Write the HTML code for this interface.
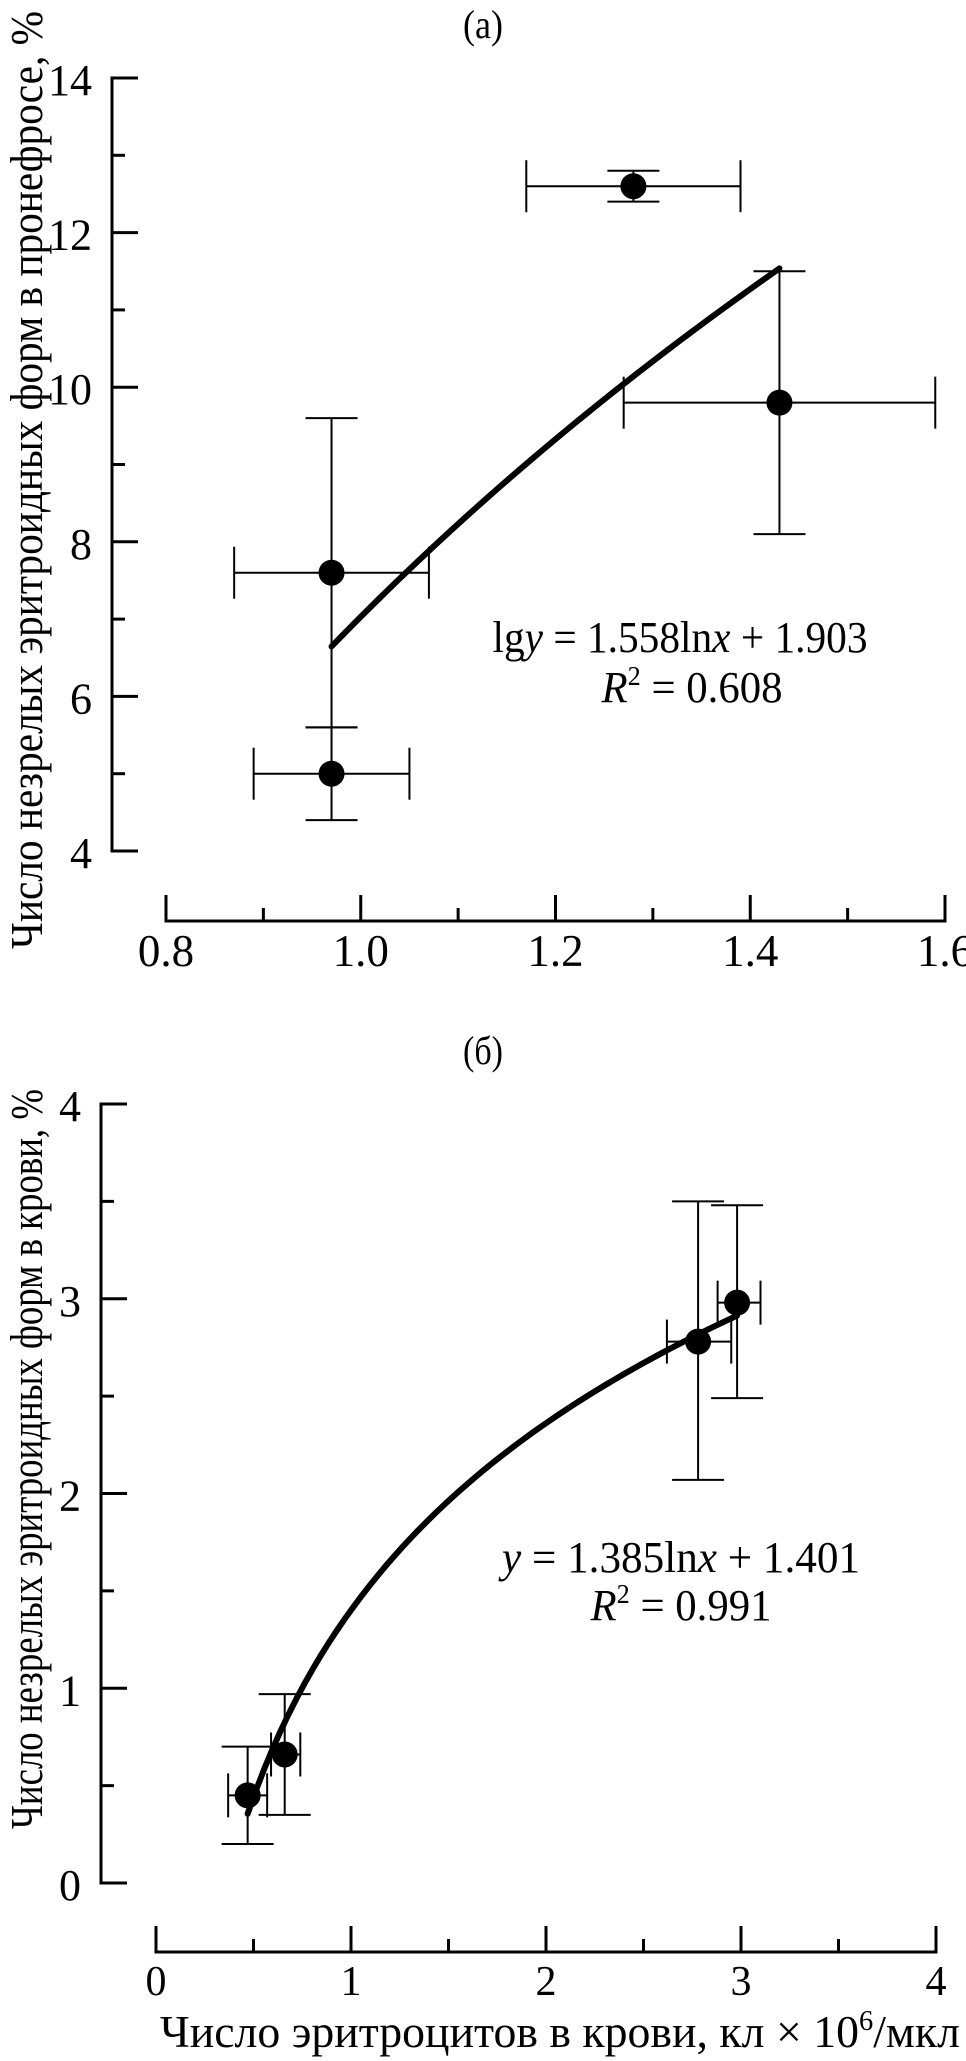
<!DOCTYPE html>
<html><head><meta charset="utf-8">
<style>
html,body{margin:0;padding:0;background:#fff;}
svg{display:block;}
text{font-family:"Liberation Serif","DejaVu Serif",serif;fill:#000;}
</style></head>
<body>
<svg id="chart" width="966" height="2061" viewBox="0 0 966 2061" xmlns="http://www.w3.org/2000/svg"></svg>
<script>
// ---- Panel (a) data ----
const aX = [0.97, 0.97, 1.28, 1.43];
const aY = [7.6, 5.0, 12.6, 9.8];
const aXlo = [0.87, 0.89, 1.17, 1.27];
const aXhi = [1.07, 1.05, 1.39, 1.59];
const aYlo = [5.6, 4.4, 12.4, 8.1];
const aYhi = [9.6, 5.6, 12.8, 11.5];
const aFitA = 7.03, aFitB = 12.6, aFitRange = [0.97, 1.43];
const aXTicks = ["0.8", "1.0", "1.2", "1.4", "1.6"];
const aYTicks = ["4", "6", "8", "10", "12", "14"];
// ---- Panel (b) data ----
const bX = [0.47, 0.66, 2.78, 2.98];
const bY = [0.45, 0.66, 2.78, 2.98];
const bXlo = [0.37, 0.59, 2.62, 2.88];
const bXhi = [0.57, 0.74, 2.95, 3.10];
const bYlo = [0.20, 0.35, 2.07, 2.49];
const bYhi = [0.70, 0.97, 3.50, 3.48];
const bFitA = 1.401, bFitB = 1.385, bFitRange = [0.47, 2.98];
const bXTicks = ["0", "1", "2", "3", "4"];
const bYTicks = ["0", "1", "2", "3", "4"];

const NS = "http://www.w3.org/2000/svg";
const svg = document.getElementById("chart");
function mk(tag, attrs, parent) {
  const e = document.createElementNS(NS, tag);
  for (const k in attrs) e.setAttribute(k, attrs[k]);
  (parent || svg).appendChild(e);
  return e;
}
function line(g, x1, y1, x2, y2, w) {
  return mk("line", {x1, y1, x2, y2, stroke: "#000", "stroke-width": w || 2}, g);
}

function panel(cfg) {
  const g = mk("g", {});
  
  
  const sx = v => cfg.px0 + (v - cfg.xmin) / (cfg.xmax - cfg.xmin) * (cfg.px1 - cfg.px0);
  const sy = v => cfg.py0 + (v - cfg.ymin) / (cfg.ymax - cfg.ymin) * (cfg.py1 - cfg.py0);
  const ya = line(g, cfg.yAxisX, sy(cfg.ymin) + 1.5, cfg.yAxisX, sy(cfg.ymax) - 1.5, 3);
  
  
  for (let v = cfg.ymin; v <= cfg.ymax + 1e-9; v += cfg.yMinor) {
    const isMajor = Math.abs(((v - cfg.ymin) / cfg.yMajor) - Math.round((v - cfg.ymin) / cfg.yMajor)) < 1e-6;
    line(g, cfg.yAxisX, sy(v), cfg.yAxisX + (isMajor ? 26 : 13), sy(v), 3);
  }
  cfg.yTicks.forEach((t, i) => {
    const v = cfg.ymin + i * cfg.yMajor;
    const tx = mk("text", {x: cfg.yAxisX - 20, y: sy(v) + 17, "font-size": 44, "text-anchor": "end"}, g);
    tx.textContent = t;
    
    
  });
  const xa = line(g, sx(cfg.xmin) - 1.5, cfg.xAxisY, sx(cfg.xmax) + 1.5, cfg.xAxisY, 3);
  
  
  for (let v = cfg.xmin; v <= cfg.xmax + 1e-9; v += cfg.xMinor) {
    const isMajor = Math.abs(((v - cfg.xmin) / cfg.xMajor) - Math.round((v - cfg.xmin) / cfg.xMajor)) < 1e-6;
    line(g, sx(v), cfg.xAxisY, sx(v), cfg.xAxisY - (isMajor ? 26 : 13), 3);
  }
  cfg.xTicks.forEach((t, i) => {
    const v = cfg.xmin + i * cfg.xMajor;
    const tx = mk("text", {x: sx(v), y: cfg.xAxisY + cfg.xLabelDy, "font-size": cfg.xLabelSize, "text-anchor": "middle"}, g);
    tx.textContent = t;
    
    
  });
  cfg.X.forEach((x, i) => {
    const eg = mk("g", {}, g);
    
    
    line(eg, sx(cfg.Xlo[i]), sy(cfg.Y[i]), sx(cfg.Xhi[i]), sy(cfg.Y[i]), 2);
    line(eg, sx(cfg.Xlo[i]), sy(cfg.Y[i]) - cfg.capH, sx(cfg.Xlo[i]), sy(cfg.Y[i]) + cfg.capH, 2);
    line(eg, sx(cfg.Xhi[i]), sy(cfg.Y[i]) - cfg.capH, sx(cfg.Xhi[i]), sy(cfg.Y[i]) + cfg.capH, 2);
    line(eg, sx(x), sy(cfg.Ylo[i]), sx(x), sy(cfg.Yhi[i]), 2);
    line(eg, sx(x) - cfg.capW, sy(cfg.Ylo[i]), sx(x) + cfg.capW, sy(cfg.Ylo[i]), 2);
    line(eg, sx(x) - cfg.capW, sy(cfg.Yhi[i]), sx(x) + cfg.capW, sy(cfg.Yhi[i]), 2);
  });
  let d = "";
  const N = 60;
  for (let k = 0; k <= N; k++) {
    const x = cfg.fitRange[0] + (cfg.fitRange[1] - cfg.fitRange[0]) * k / N;
    const y = cfg.fitA + cfg.fitB * Math.log(x);
    d += (k ? "L" : "M") + sx(x).toFixed(2) + "," + sy(y).toFixed(2);
  }
  const fit = mk("path", {d, fill: "none", stroke: "#000", "stroke-width": 6, "stroke-linecap": "round"}, g);
  
  
  cfg.X.forEach((x, i) => {
    const c = mk("circle", {cx: sx(x), cy: sy(cfg.Y[i]), r: 13, fill: "#000"}, g);
    
    
  });
  return g;
}

panel({name: "panel-a", xmin: 0.8, xmax: 1.6, px0: 166, px1: 945, ymin: 4, ymax: 14, py0: 851, py1: 78,
  yAxisX: 112, xAxisY: 921, yMajor: 2, yMinor: 1, xMajor: 0.2, xMinor: 0.1, xLabelDy: 45, xLabelSize: 45,
  xTicks: aXTicks, yTicks: aYTicks, X: aX, Y: aY, Xlo: aXlo, Xhi: aXhi, Ylo: aYlo, Yhi: aYhi,
  fitA: aFitA, fitB: aFitB, fitRange: aFitRange, capH: 26, capW: 26});
panel({name: "panel-b", xmin: 0, xmax: 4, px0: 156, px1: 936, ymin: 0, ymax: 4, py0: 1883, py1: 1104,
  yAxisX: 101, xAxisY: 1952, yMajor: 1, yMinor: 0.5, xMajor: 1, xMinor: 0.5, xLabelDy: 43, xLabelSize: 42,
  xTicks: bXTicks, yTicks: bYTicks, X: bX, Y: bY, Xlo: bXlo, Xhi: bXhi, Ylo: bYlo, Yhi: bYhi,
  fitA: bFitA, fitB: bFitB, fitRange: bFitRange, capH: 22, capW: 26});
</script>
<svg style="position:absolute;left:0;top:0" width="966" height="2061">
  <text x="483" y="38" font-size="40" text-anchor="middle" textLength="40" lengthAdjust="spacingAndGlyphs">(a)</text>
  <text transform="translate(42,480) rotate(-90)" font-size="46" text-anchor="middle" textLength="938" lengthAdjust="spacingAndGlyphs">Число незрелых эритроидных форм в пронефросе, %</text>
  <text x="680" y="652" font-size="44" text-anchor="middle" textLength="375" lengthAdjust="spacingAndGlyphs">lg<tspan font-style="italic">y</tspan> = 1.558ln<tspan font-style="italic">x</tspan> + 1.903</text>
  <text x="692" y="702" font-size="44" text-anchor="middle" textLength="181" lengthAdjust="spacingAndGlyphs"><tspan font-style="italic">R</tspan><tspan font-size="27" dy="-17">2</tspan><tspan dy="17"> = 0.608</tspan></text>
  <text x="483" y="1064" font-size="40" text-anchor="middle" textLength="40" lengthAdjust="spacingAndGlyphs">(б)</text>
  <text transform="translate(42,1459) rotate(-90)" font-size="46" text-anchor="middle" textLength="740" lengthAdjust="spacingAndGlyphs">Число незрелых эритроидных форм в крови, %</text>
  <text x="681" y="1572" font-size="44" text-anchor="middle" textLength="358" lengthAdjust="spacingAndGlyphs"><tspan font-style="italic">y</tspan> = 1.385ln<tspan font-style="italic">x</tspan> + 1.401</text>
  <text x="681" y="1620" font-size="44" text-anchor="middle" textLength="181" lengthAdjust="spacingAndGlyphs"><tspan font-style="italic">R</tspan><tspan font-size="27" dy="-17">2</tspan><tspan dy="17"> = 0.991</tspan></text>
  <text x="560" y="2047" font-size="45" text-anchor="middle" textLength="800" lengthAdjust="spacingAndGlyphs">Число эритроцитов в крови, кл × 10<tspan font-size="28" dy="-17">6</tspan><tspan dy="17">/мкл</tspan></text>
</svg>
</body></html>
